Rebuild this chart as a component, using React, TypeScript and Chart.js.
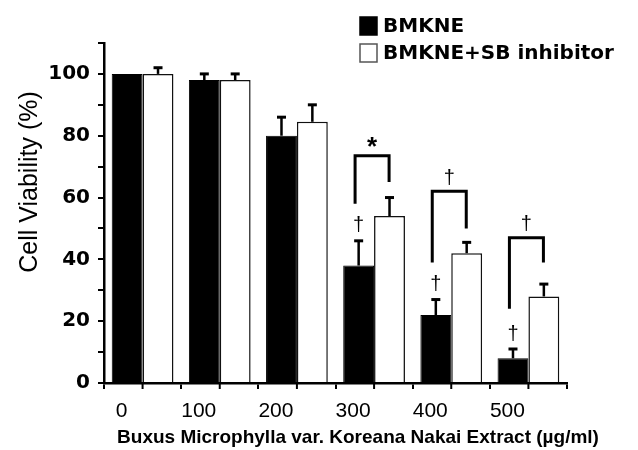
import React, { useEffect, useRef } from 'react';
import { Chart, registerables } from 'chart.js';

Chart.register(...registerables);

// ---- data ----
const categories = ['0', '100', '200', '300', '400', '500'];
const seriesNames = ['BMKNE', 'BMKNE+SB inhibitor'];
const bmkne = [100, 98, 80, 38, 22, 8];
const bmkneErr = [0, 2, 6, 8, 5, 3];
const bmkneSb = [100, 98, 84.5, 54, 42, 28];
const bmkneSbErr = [2, 2, 5.5, 6, 3.5, 4];
const markAboveBmkne = ['', '', '', '†', '†', '†'];
const bracketLabel = ['', '', '', '*', '†', '†'];
const bracketTop: (number | null)[] = [null, null, null, 73.5, 62, 47];
const bracketLeftEnd: (number | null)[] = [null, null, null, 58, 39, 24];
const bracketRightEnd: (number | null)[] = [null, null, null, 65, 50, 39];
const yMax = 110;
const yStep = 10;
const yLabelEvery = 20;
const xTitle = 'Buxus Microphylla var. Koreana Nakai Extract (µg/ml)';
const yTitle = 'Cell Viability (%)';

const errors = [bmkneErr, bmkneSbErr];

const overlayPlugin = {
  id: 'overlay',
  afterDatasetsDraw(chart: any) {
    const ctx = chart.ctx;
    const ys = chart.scales.y;
    const xs = chart.scales.x;
    ctx.save();
    ctx.strokeStyle = '#000';
    ctx.fillStyle = '#000';
    // error bars (upper only)
    errors.forEach((errArr, di) => {
      const meta = chart.getDatasetMeta(di);
      const vals = chart.data.datasets[di].data as number[];
      meta.data.forEach((el: any, i: number) => {
        const e = errArr[i];
        if (!e) return;
        const top = ys.getPixelForValue(vals[i] + e);
        ctx.lineWidth = 2.5;
        ctx.beginPath();
        ctx.moveTo(el.x, el.y);
        ctx.lineTo(el.x, top);
        ctx.stroke();
        ctx.lineWidth = 3;
        ctx.beginPath();
        ctx.moveTo(el.x - 4.5, top);
        ctx.lineTo(el.x + 4.5, top);
        ctx.stroke();
      });
    });
    // marks above BMKNE bars
    const meta0 = chart.getDatasetMeta(0);
    ctx.font = '20px "Liberation Sans"';
    ctx.textAlign = 'center';
    ctx.textBaseline = 'middle';
    markAboveBmkne.forEach((m, i) => {
      if (!m) return;
      const el: any = meta0.data[i];
      const top = ys.getPixelForValue(bmkne[i] + bmkneErr[i]);
      ctx.fillText(m, el.x, top - 15);
    });
    // brackets
    bracketTop.forEach((t, i) => {
      if (t === null) return;
      const c = xs.getPixelForValue(i);
      const lx = c - 19;
      const rx = c + 15;
      const ty = ys.getPixelForValue(t);
      ctx.lineWidth = 3;
      ctx.lineJoin = 'miter';
      ctx.beginPath();
      ctx.moveTo(lx, ys.getPixelForValue(bracketLeftEnd[i] as number));
      ctx.lineTo(lx, ty);
      ctx.lineTo(rx, ty);
      ctx.lineTo(rx, ys.getPixelForValue(bracketRightEnd[i] as number));
      ctx.stroke();
      const lab = bracketLabel[i];
      if (lab === '*') {
        ctx.font = 'bold 26px "Liberation Sans"';
        ctx.fillText(lab, (lx + rx) / 2, ty - 8);
      } else {
        ctx.font = '20px "Liberation Sans"';
        ctx.fillText(lab, (lx + rx) / 2, ty - 13);
      }
    });
    ctx.restore();
  },
  afterDraw(chart: any) {
    const ctx = chart.ctx;
    const xs = chart.scales.x;
    const area = chart.chartArea;
    ctx.save();
    // center ticks on x axis
    ctx.strokeStyle = '#000';
    ctx.lineWidth = 2;
    categories.forEach((_, i) => {
      const x = xs.getPixelForValue(i);
      ctx.beginPath();
      ctx.moveTo(x, area.bottom);
      ctx.lineTo(x, area.bottom + 6);
      ctx.stroke();
    });
    // legend
    const colors = ['#000', '#fff'];
    ctx.font = 'bold 20px "DejaVu Sans"';
    ctx.textBaseline = 'middle';
    ctx.textAlign = 'left';
    seriesNames.forEach((name, i) => {
      const y0 = 17 + i * 27;
      ctx.fillStyle = colors[i];
      ctx.fillRect(360, y0, 17, 18);
      ctx.strokeStyle = i === 0 ? '#000' : '#555';
      ctx.lineWidth = 1.5;
      ctx.strokeRect(360, y0, 17, 18);
      ctx.fillStyle = '#000';
      ctx.fillText(name, 383, y0 + 10);
    });
    // x title
    ctx.font = 'bold 19px "Liberation Sans"';
    ctx.textAlign = 'center';
    ctx.textBaseline = 'alphabetic';
    ctx.fillText(xTitle, 358, 443);
    // y title
    ctx.translate(30, 182);
    ctx.rotate(-Math.PI / 2);
    ctx.font = '25px "Liberation Sans"';
    ctx.textBaseline = 'middle';
    ctx.fillText(yTitle, 0, 0);
    ctx.restore();
  },
};

export default function App() {
  const ref = useRef<HTMLCanvasElement>(null);
  useEffect(() => {
    document.body.style.margin = '0';
    const chart = new Chart(ref.current as HTMLCanvasElement, {
      type: 'bar',
      data: {
        labels: categories,
        datasets: [
          {
            label: seriesNames[0],
            data: bmkne,
            backgroundColor: '#000',
            borderColor: '#000',
            borderWidth: 1,
          },
          {
            label: seriesNames[1],
            data: bmkneSb,
            backgroundColor: '#fff',
            borderColor: '#111',
            borderWidth: 1.5,
          },
        ],
      },
      options: {
        responsive: false,
        animation: false,
        layout: { padding: { top: 43, right: 71, left: 0, bottom: 0 } },
        plugins: { legend: { display: false }, tooltip: { enabled: false } },
        datasets: { bar: { barPercentage: 1, categoryPercentage: 0.8 } },
        scales: {
          x: {
            type: 'category',
            offset: true,
            afterFit: (s: any) => {
              s.height = 67;
            },
            grid: {
              offset: true,
              drawOnChartArea: false,
              tickLength: 6,
              color: '#000',
              lineWidth: 2,
            },
            border: { color: '#000', width: 2.5 },
            ticks: {
              color: '#000',
              font: { family: 'Liberation Sans', size: 21 },
              labelOffset: -21,
              padding: 10,
              maxRotation: 0,
            },
          },
          y: {
            min: 0,
            max: yMax,
            afterFit: (s: any) => {
              s.width = 104;
            },
            grid: {
              drawOnChartArea: false,
              tickLength: 6,
              color: '#000',
              lineWidth: 2,
            },
            border: { color: '#000', width: 2.5 },
            ticks: {
              stepSize: yStep,
              autoSkip: false,
              color: '#000',
              padding: 8,
              font: { family: 'DejaVu Sans', weight: 'bold', size: 20 },
              callback: (v: any) => (Number(v) % yLabelEvery === 0 ? String(v) : ''),
            },
          },
        },
      },
      plugins: [overlayPlugin],
    } as any);
    return () => chart.destroy();
  }, []);
  return <canvas ref={ref} width={638} height={450} style={{ display: 'block' }} />;
}
